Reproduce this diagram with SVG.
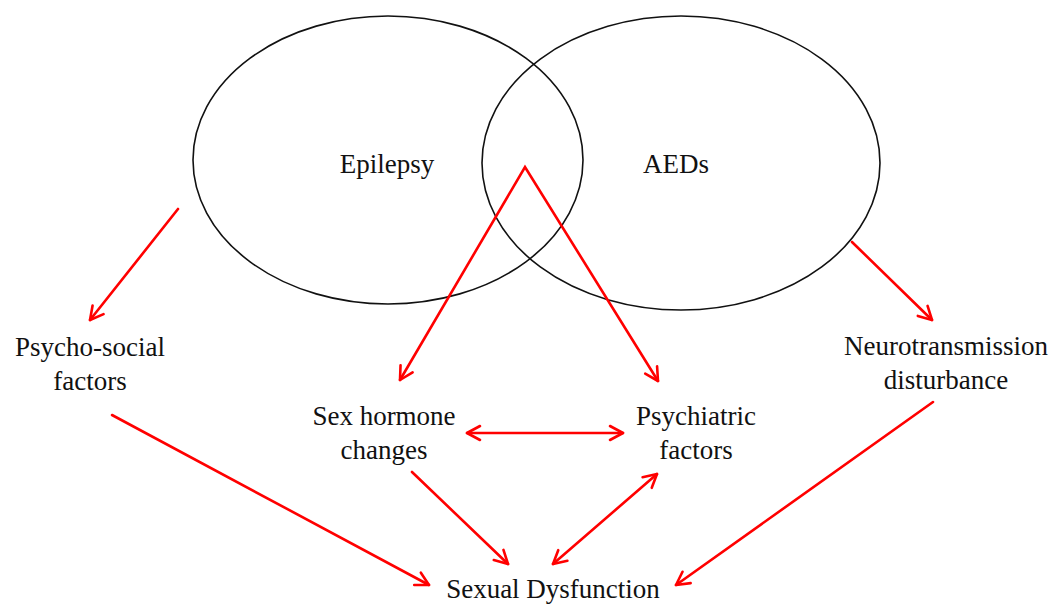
<svg xmlns="http://www.w3.org/2000/svg" width="1058" height="607" viewBox="0 0 1058 607">
<style>
.ell{fill:none;stroke:#111;stroke-width:1.6}
.lbl{font-family:"Liberation Serif","Times New Roman",serif;font-size:27px;fill:#111;text-anchor:middle}
.con{stroke:#f00;stroke-width:2.6;fill:none;stroke-linecap:round}
</style>
<defs>
<marker id="ah" viewBox="0 0 18 18" refX="16" refY="9" markerWidth="18" markerHeight="18" markerUnits="userSpaceOnUse" orient="auto-start-reverse">
<path d="M3,2 L16,9 L3,16" fill="none" stroke="#f00" stroke-width="2.6" stroke-linecap="round" stroke-linejoin="round"/>
</marker>
</defs>
<rect width="1058" height="607" fill="#fff"/>
<g id="epilepsy"><ellipse class="ell" cx="388" cy="160" rx="195" ry="144"/><text class="lbl" x="387" y="173">Epilepsy</text></g>
<g id="aeds"><ellipse class="ell" cx="681" cy="163" rx="199" ry="147"/><text class="lbl" x="676" y="173">AEDs</text></g>
<g id="psychosocial"><text class="lbl" x="90" y="356">Psycho-social</text><text class="lbl" x="90" y="390">factors</text></g>
<g id="sexhormone"><text class="lbl" x="384" y="425">Sex hormone</text><text class="lbl" x="384" y="459">changes</text></g>
<g id="psychiatric"><text class="lbl" x="696" y="425">Psychiatric</text><text class="lbl" x="696" y="459">factors</text></g>
<g id="neuro"><text class="lbl" x="946" y="355">Neurotransmission</text><text class="lbl" x="946" y="389">disturbance</text></g>
<g id="sexdys"><text class="lbl" x="553" y="598">Sexual Dysfunction</text></g>
<g id="connectors">
<line class="con" x1="178" y1="209" x2="90" y2="320" marker-end="url(#ah)"/>
<polyline class="con" points="400,380 525,167 658,381" marker-start="url(#ah)" marker-end="url(#ah)" stroke-linejoin="miter"/>
<line class="con" x1="852" y1="242" x2="932" y2="320" marker-end="url(#ah)"/>
<line class="con" x1="112" y1="415" x2="429" y2="585" marker-end="url(#ah)"/>
<line class="con" x1="467" y1="433" x2="623" y2="433" marker-start="url(#ah)" marker-end="url(#ah)"/>
<line class="con" x1="412" y1="472" x2="508" y2="564" marker-end="url(#ah)"/>
<line class="con" x1="657" y1="474" x2="553" y2="564" marker-start="url(#ah)" marker-end="url(#ah)"/>
<line class="con" x1="933" y1="402" x2="676" y2="585" marker-end="url(#ah)"/>
</g>
</svg>
